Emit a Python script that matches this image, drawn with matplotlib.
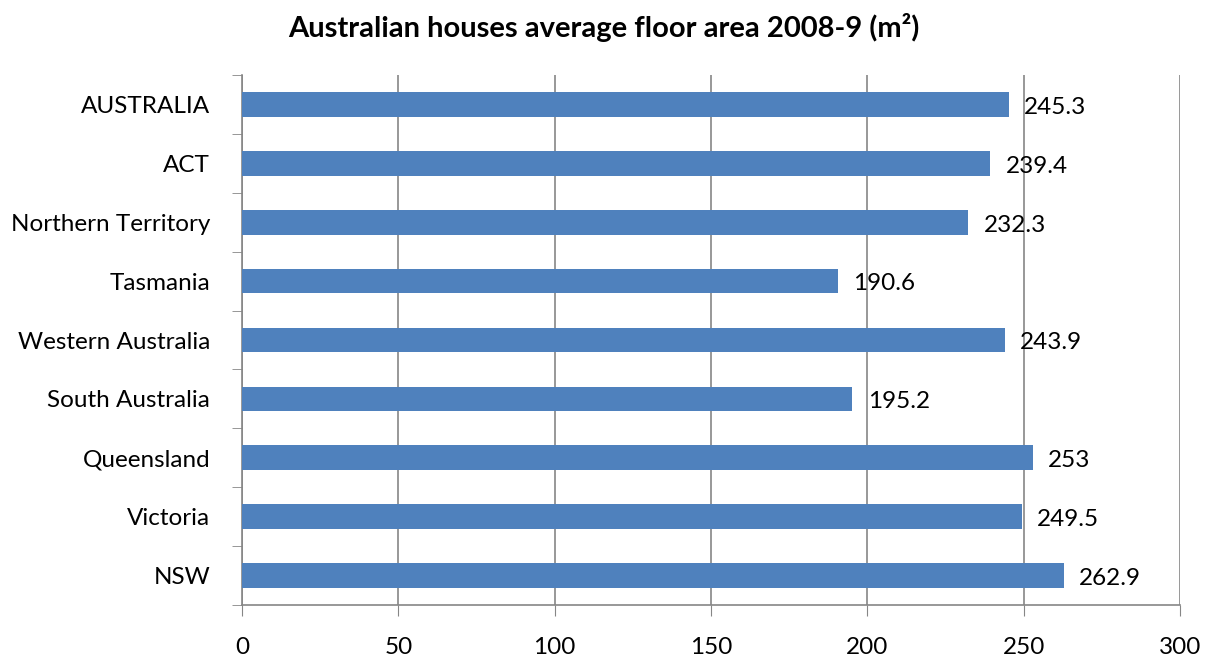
import matplotlib.pyplot as plt
import numpy as np

regions = ["NSW", "Victoria", "Queensland", "South Australia", "Western Australia",
           "Tasmania", "Northern Territory", "ACT", "AUSTRALIA"]
floor_area = [262.9, 249.5, 253, 195.2, 243.9, 190.6, 232.3, 239.4, 245.3]
labels = ["262.9", "249.5", "253", "195.2", "243.9", "190.6", "232.3", "239.4", "245.3"]

plt.rcParams["font.family"] = ["Lato", "DejaVu Sans"]

fig = plt.figure(figsize=(12.08, 6.62), dpi=100)
ax = fig.add_axes([0.2003, 0.0861, 0.7765, 0.8006])

y = np.arange(len(regions))
ax.barh(y, floor_area, height=0.42, color="#4f81bd", zorder=3)

for yi, v, lab in zip(y, floor_area, labels):
    ax.annotate(lab, (v, yi), xytext=(11, -2), textcoords="offset points",
                va="center", ha="left", fontsize=17.5, color="black", zorder=4)

ax.set_xlim(0, 300)
ax.set_ylim(-0.5, len(regions) - 0.5)
ax.set_xticks(np.arange(0, 301, 50))
ax.set_yticks(y)
ax.set_yticklabels(regions)
ax.set_yticks(np.arange(-0.5, len(regions), 1), minor=True)
ax.tick_params(axis="y", which="major", length=0, pad=23, labelsize=17.5)
ax.tick_params(axis="y", which="minor", length=7, color="#868686")
ax.tick_params(axis="x", length=8, color="#868686", labelsize=17.5, pad=15)

ax.grid(axis="x", color="#868686", linewidth=1.2, zorder=0)
for s in ["top", "right"]:
    ax.spines[s].set_visible(False)
for s in ["left", "bottom"]:
    ax.spines[s].set_color("#868686")
    ax.spines[s].set_linewidth(1.2)

fig.suptitle("Australian houses average floor area 2008-9 (m²)", x=0.5, y=0.98,
             fontsize=21, fontweight="bold")

fig.savefig("out.png", dpi=100)
